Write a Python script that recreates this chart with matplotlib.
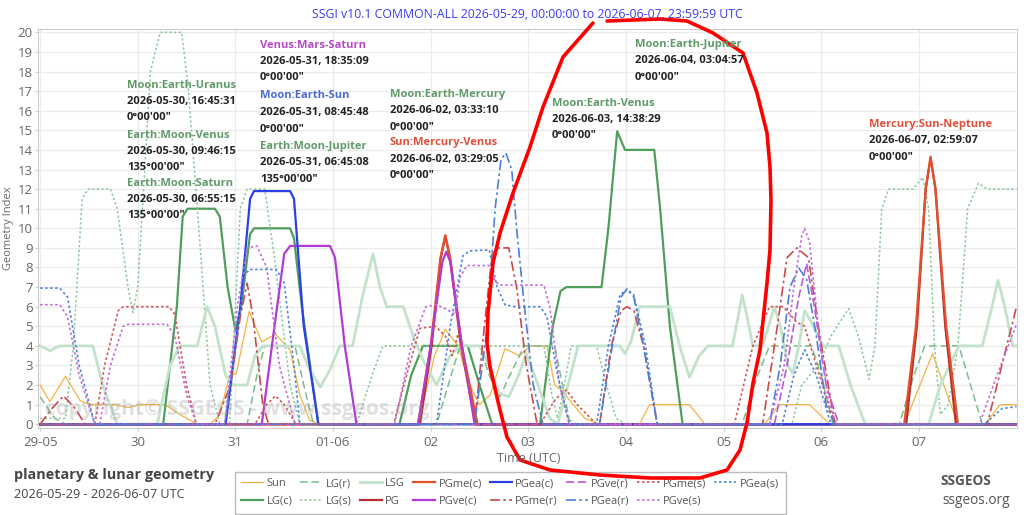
import matplotlib
matplotlib.use('Agg')
import matplotlib.pyplot as plt
from matplotlib.lines import Line2D
from matplotlib.transforms import Affine2D

plt.rcParams['font.family'] = ['Open Sans', 'DejaVu Sans']

W, H = 1024, 515

# x axis: days from 2026-05-29 00:00 UTC
day_ticks = [0, 1, 2, 3, 4, 5, 6, 7, 8, 9]
day_labels = ['29-05', '30', '31', '01-06', '02', '03', '04', '05', '06', '07']

# (day, geometry index)
sun = [(0, 2.0), (0.10, 1.15), (0.26, 2.45), (0.41, 1.2), (0.51, 1.0), (0.77, 1.0), (0.90, 0.85),
       (1.02, 1.0), (1.28, 1.0), (1.43, 0.5), (1.59, 0.05), (1.74, 0.0), (1.84, 0.5), (1.94, 2.5),
       (2.01, 2.6), (2.14, 5.75), (2.27, 4.2), (2.41, 4.6), (2.56, 3.8), (2.66, 1.5), (2.76, 0.2),
       (2.87, 0.0), (3.87, 0.0), (4.04, 3.5), (4.15, 4.85), (4.28, 4.0), (4.40, 2.0), (4.50, 1.0),
       (4.61, 1.5), (4.76, 3.85), (4.91, 3.5), (5.02, 4.0), (5.19, 4.0), (5.27, 2.0), (5.35, 1.7),
       (5.46, 1.0), (5.58, 0.3), (5.73, 0.0), (6.14, 0.0), (6.24, 1.0), (6.65, 1.0), (6.81, 0.0),
       (7.42, 0.0), (7.57, 1.0), (7.88, 1.0), (8.09, 0.0), (8.85, 0.0), (9.14, 3.6), (9.40, 0.0),
       (9.68, 0.0), (9.83, 1.0), (10.0, 1.0)]

lg_c = [(0, 0), (1.26, 0), (1.40, 6), (1.46, 10.6), (1.51, 11), (1.79, 11), (1.84, 10.6), (1.92, 7),
        (2.0, 4.8), (2.06, 6), (2.15, 9.7), (2.19, 10), (2.56, 10), (2.60, 9.5), (2.68, 6), (2.85, 0),
        (3.68, 0), (3.80, 2.5), (3.92, 4), (4.38, 4), (4.50, 2), (4.63, 0), (5.12, 0), (5.25, 5),
        (5.33, 6.8), (5.39, 7), (5.75, 7), (5.82, 10), (5.91, 14.95), (5.99, 14.0), (6.29, 14.0),
        (6.35, 11), (6.45, 5), (6.58, 0), (10, 0)]

lg_r = [(0, 1.4), (0.15, 0.3), (0.26, 0), (2.12, 0), (2.22, 2.5), (2.30, 4), (2.61, 4), (2.70, 2),
        (2.80, 0), (4.06, 0), (4.18, 2), (4.30, 4), (4.50, 4), (4.60, 2.5), (4.71, 1.4), (4.81, 2.5),
        (4.96, 4), (5.27, 4), (5.35, 2), (5.42, 0.2), (5.50, 0), (7.19, 0), (7.35, 2.5), (7.47, 4),
        (7.90, 4), (8.00, 2.5), (8.12, 0), (8.80, 0), (8.95, 2.5), (9.06, 4), (9.41, 4), (9.50, 2.5),
        (9.65, 0), (10, 0)]

lg_s = [(0, 0.3), (0.26, 0.3), (0.34, 4), (0.43, 11.5), (0.49, 12), (0.72, 12), (0.79, 11),
        (0.90, 7), (0.95, 5.7), (1.00, 7), (1.13, 18), (1.23, 20), (1.45, 20), (1.52, 17), (1.64, 9),
        (1.74, 2), (1.84, 0), (1.94, 0), (2.05, 11), (2.12, 12), (2.30, 12), (2.40, 8.5), (2.56, 2),
        (2.66, 0), (3.24, 0), (3.40, 2.5), (3.51, 4), (5.16, 4), (5.24, 1.5), (5.30, 0.3),
        (5.35, 1.5), (5.44, 4), (5.70, 4), (5.80, 2), (5.90, 0.3), (6.0, 0), (7.70, 0), (7.80, 2),
        (7.97, 3), (8.10, 4.5), (8.28, 5.9), (8.38, 4.5), (8.49, 2.3), (8.55, 4), (8.62, 11),
        (8.69, 12), (8.94, 12), (9.04, 12.6), (9.10, 11), (9.16, 4), (9.22, 0.5), (9.30, 1),
        (9.40, 4), (9.50, 11), (9.61, 12.3), (9.70, 12.0), (10, 12.0)]

lsg = [(0, 4), (0.10, 3.75), (0.20, 4), (0.54, 4), (0.64, 2), (0.79, 0), (1.20, 0), (1.33, 3),
       (1.43, 4), (1.61, 4), (1.71, 6), (1.79, 5), (1.90, 2.5), (1.98, 2.0), (2.12, 2.0), (2.20, 3.5),
       (2.28, 4), (2.66, 4), (2.76, 2.8), (2.87, 1.9), (2.97, 2.8), (3.07, 4), (3.20, 4), (3.30, 6.5),
       (3.41, 8.7), (3.48, 7), (3.55, 6), (3.72, 6), (3.82, 4.5), (3.92, 3.3), (4.06, 2.0),
       (4.20, 3.5), (4.30, 4), (4.50, 4), (4.60, 3), (4.70, 1.6), (4.80, 1.4), (4.90, 2.5),
       (4.98, 3.6), (5.10, 2), (5.22, 0.3), (5.30, 0), (5.38, 1.5), (5.51, 4), (5.94, 4), (5.99, 3.6),
       (6.05, 4.2), (6.14, 6), (6.45, 6), (6.55, 4), (6.65, 2.4), (6.75, 3.5), (6.84, 4), (7.09, 4),
       (7.15, 5.5), (7.19, 6.6), (7.24, 5.5), (7.30, 4), (7.40, 4), (7.46, 5), (7.52, 6), (7.58, 5),
       (7.66, 3), (7.71, 2.6), (7.77, 4), (7.83, 5.8), (7.90, 5.2), (8.02, 4), (8.18, 4), (8.30, 2),
       (8.45, 0), (9.10, 0), (9.22, 2), (9.41, 4), (9.65, 4), (9.75, 6), (9.81, 7.35), (9.88, 6),
       (9.96, 4), (10, 4)]

pg = [(0, 0), (3.89, 0), (4.01, 4), (4.10, 8.4), (4.15, 9.6), (4.20, 8.4), (4.31, 4), (4.46, 0),
      (8.87, 0), (8.98, 5), (9.07, 12), (9.12, 13.6), (9.17, 12), (9.27, 5), (9.38, 0), (10, 0)]

pgme_c = [(0, 0), (3.87, 0), (4.0, 4), (4.10, 8.5), (4.15, 9.65), (4.20, 8.5), (4.32, 4), (4.48, 0),
          (8.85, 0), (8.97, 5), (9.07, 12), (9.12, 13.65), (9.17, 12), (9.28, 5), (9.40, 0), (10, 0)]

pgve_c = [(0, 0), (2.27, 0), (2.40, 5), (2.50, 8.7), (2.56, 9.1), (2.97, 9.1), (3.02, 8.5),
          (3.12, 4), (3.24, 0), (3.87, 0), (4.00, 4), (4.12, 8.3), (4.16, 8.8), (4.20, 8.3),
          (4.32, 4), (4.45, 0), (10, 0)]

pgea_c = [(0, 0), (1.90, 0), (2.05, 6), (2.15, 11.5), (2.19, 11.9), (2.56, 11.9), (2.60, 11.5),
          (2.70, 5), (2.85, 0), (10, 0)]

pgme_r = [(0, 0), (0.12, 0.8), (0.24, 1.45), (0.36, 0.8), (0.46, 0), (1.79, 0), (1.95, 2),
          (2.05, 5.5), (2.12, 7.2), (2.18, 5.5), (2.28, 1), (2.34, 0), (4.45, 0), (4.55, 5),
          (4.63, 8.7), (4.70, 9.0), (4.80, 9.0), (4.88, 7), (4.98, 3), (5.09, 0), (5.73, 0),
          (5.85, 4), (5.95, 5.8), (6.01, 6.0), (6.08, 5.8), (6.18, 4), (6.32, 0), (7.40, 0),
          (7.55, 5), (7.65, 8.5), (7.75, 9.0), (7.87, 8.5), (7.97, 5), (8.14, 0), (9.70, 0),
          (9.85, 3), (10, 6.0)]

pgve_r = [(0, 0), (7.52, 0), (7.65, 3), (7.77, 6.5), (7.85, 8.2), (7.93, 6), (8.05, 2), (8.18, 0),
          (10, 0)]

pgea_r = [(0, 0), (4.45, 0), (4.58, 5), (4.66, 11), (4.72, 13.5), (4.77, 13.85), (4.83, 13.0),
          (4.88, 10), (4.96, 6), (5.05, 2), (5.15, 0), (5.73, 0), (5.86, 4), (5.95, 6.5),
          (6.01, 6.9), (6.08, 6.5), (6.18, 4), (6.32, 0), (7.47, 0), (7.58, 3), (7.68, 7),
          (7.77, 7.97), (7.85, 7.4), (7.95, 4.5), (8.05, 1), (8.14, 0), (10, 0)]

pgme_s = [(0, 0), (0.56, 0), (0.66, 3), (0.80, 5.8), (0.85, 6.0), (1.32, 6.0), (1.38, 5.6),
          (1.50, 2), (1.60, 0), (2.20, 0), (2.32, 1.0), (2.41, 1.45), (2.50, 1.0), (2.62, 0),
          (3.62, 0), (3.78, 3), (3.89, 4.9), (4.05, 5.0), (4.15, 4.5), (4.22, 3.5), (4.28, 4.6),
          (4.35, 3), (4.48, 0), (5.12, 0), (5.28, 1.3), (5.39, 1.75), (5.50, 1.0), (5.70, 0),
          (7.11, 0), (7.30, 4), (7.47, 6.0), (7.61, 6.0), (7.75, 5.2), (7.83, 5.0), (7.95, 3),
          (8.14, 0), (10, 0)]

pgve_s = [(0, 6.1), (0.20, 6.1), (0.28, 5.5), (0.40, 2.5), (0.56, 0), (0.61, 0), (0.72, 3),
          (0.85, 5.0), (0.90, 5.1), (1.30, 5.1), (1.38, 4.5), (1.50, 1.5), (1.60, 0), (1.89, 0),
          (2.02, 6), (2.12, 9.0), (2.22, 9.1), (2.32, 8), (2.45, 3), (2.61, 0), (3.63, 0),
          (3.80, 4), (3.95, 6.0), (4.06, 6.1), (4.15, 5.9), (4.25, 5.6), (4.30, 7.5), (4.37, 8.1),
          (4.60, 8.1), (4.66, 7.3), (4.71, 7.1), (5.16, 7.1), (5.22, 6), (5.32, 2), (5.42, 0),
          (7.47, 0), (7.62, 3), (7.72, 7), (7.80, 9.6), (7.83, 10.0), (7.88, 9.3), (7.97, 5),
          (8.08, 1), (8.16, 0), (9.62, 0), (9.80, 2.5), (10, 5.1)]

pgea_s = [(0, 6.95), (0.20, 6.95), (0.28, 6.5), (0.40, 3), (0.56, 0), (1.89, 0), (2.00, 4),
          (2.10, 7.6), (2.14, 7.9), (2.42, 7.9), (2.50, 7.2), (2.60, 3), (2.66, 0), (4.06, 0),
          (4.20, 5), (4.33, 8.6), (4.40, 8.85), (4.60, 8.9), (4.68, 7), (4.76, 6.1), (4.86, 6.0),
          (5.12, 6.0), (5.19, 5.5), (5.30, 2.5), (5.42, 0), (5.70, 0), (5.82, 4), (5.94, 6.6),
          (6.01, 6.9), (6.08, 6.6), (6.20, 4), (6.32, 0), (7.60, 0), (7.72, 2.5), (7.83, 3.8),
          (7.95, 2.5), (8.10, 0), (9.67, 0), (9.85, 0.8), (10, 0.9)]

# label, data, colour, width, style (legend order)
series = [
    ('Sun', sun, '#f2b443', 0.9, '-'),
    ('LG(c)', lg_c, '#4f9e5b', 1.6, '-'),
    ('LG(r)', lg_r, '#7dbb8b', 1.1, (0, (5, 2.5))),
    ('LG(s)', lg_s, '#8cc79a', 1.1, (0, (1.5, 1.5))),
    ('LSG', lsg, '#c3e2cb', 2.0, '-'),
    ('PG', pg, '#b32e2e', 1.6, '-'),
    ('PGme(c)', pgme_c, '#e2502c', 1.6, '-'),
    ('PGve(c)', pgve_c, '#b23ad6', 1.6, '-'),
    ('PGea(c)', pgea_c, '#2a40e2', 1.6, '-'),
    ('PGme(r)', pgme_r, '#c94a4a', 1.2, (0, (6, 2, 1.5, 2))),
    ('PGve(r)', pgve_r, '#b95ad8', 1.2, (0, (5, 2))),
    ('PGea(r)', pgea_r, '#4c7fd6', 1.2, (0, (6, 2, 1.5, 2))),
    ('PGme(s)', pgme_s, '#d05656', 1.2, (0, (1.5, 1.5))),
    ('PGve(s)', pgve_s, '#c46cdb', 1.2, (0, (1.5, 1.5))),
    ('PGea(s)', pgea_s, '#4f84da', 1.2, (0, (1.5, 1.5))),
]

# event labels: x px, y px of first line, title, colour, time, angle
events = [
    (127, 85, 'Moon:Earth-Uranus', '#5f9a68', '2026-05-30, 16:45:31', '0°00\'00"'),
    (127, 135, 'Earth:Moon-Venus', '#5f9a68', '2026-05-30, 09:46:15', '135°00\'00"'),
    (127, 183, 'Earth:Moon-Saturn', '#5f9a68', '2026-05-30, 06:55:15', '135°00\'00"'),
    (260, 45, 'Venus:Mars-Saturn', '#b24ac4', '2026-05-31, 18:35:09', '0°00\'00"'),
    (260, 96, 'Moon:Earth-Sun', '#4a6ad0', '2026-05-31, 08:45:48', '0°00\'00"'),
    (260, 146, 'Earth:Moon-Jupiter', '#5f9a68', '2026-05-31, 06:45:08', '135°00\'00"'),
    (390, 94, 'Moon:Earth-Mercury', '#5f9a68', '2026-06-02, 03:33:10', '0°00\'00"'),
    (390, 143, 'Sun:Mercury-Venus', '#e0503a', '2026-06-02, 03:29:05', '0°00\'00"'),
    (552, 103, 'Moon:Earth-Venus', '#5f9a68', '2026-06-03, 14:38:29', '0°00\'00"'),
    (635, 44, 'Moon:Earth-Jupiter', '#5f9a68', '2026-06-04, 03:04:57', '0°00\'00"'),
    (869, 124, 'Mercury:Sun-Neptune', '#e0503a', '2026-06-07, 02:59:07', '0°00\'00"'),
]

# hand-drawn red loop (pixels)
loop_x = [593, 563, 543, 530, 513, 500, 493, 488, 487, 490, 500, 507, 520, 550, 600, 650, 700, 727,
          740, 747, 753, 760, 767, 770, 771, 770, 767, 757, 743, 713, 687, 660, 607]
loop_y = [23, 57, 107, 147, 193, 233, 263, 313, 343, 367, 410, 437, 460, 470, 475, 478, 478, 470,
          450, 423, 383, 350, 283, 250, 200, 167, 133, 93, 53, 33, 21, 19, 21]

fig = plt.figure(figsize=(W / 100, H / 100), dpi=100)
ax = fig.add_axes([37.7 / W, 1 - 428 / H, (1016.5 - 37.7) / W, (428 - 29) / H])

for label, data, color, lw, ls in series:
    ax.plot([p[0] for p in data], [p[1] for p in data], color=color, lw=lw, ls=ls, label=label)

ax.set_xlim(-0.025, 10.0)
ax.set_ylim(-0.19, 20.17)
ax.set_xticks(day_ticks)
ax.set_xticklabels(day_labels)
ax.set_yticks(range(0, 21))
ax.grid(True, color='#ebebeb', lw=0.9)
ax.set_axisbelow(True)
ax.tick_params(colors='#cccccc', labelcolor='#666666', labelsize=9.5, length=2)
ax.tick_params(axis='y', pad=1.5)
for s in ax.spines.values():
    s.set_color('#cccccc')

def px(x, y):
    return x / W, 1 - y / H

fig.text(*px(527, 15), 'SSGI v10.1 COMMON-ALL 2026-05-29, 00:00:00 to 2026-06-07, 23:59:59 UTC',
         color='#3b3bf2', fontsize=8.8, ha='center', va='center')
fig.text(*px(9, 228), 'Geometry Index', color='#666666', fontsize=8, rotation=90,
         ha='center', va='center')
fig.text(*px(529, 458), 'Time (UTC)', color='#666666', fontsize=9, ha='center', va='center')
fig.text(*px(45, 410), 'copyright© SSGEOS - www.ssgeos.org', color='#999999', alpha=0.3,
         fontsize=15, fontweight='bold', ha='left', va='center')

for x, y, title, color, when, angle in events:
    fig.text(*px(x, y), title, color=color, fontsize=8, fontweight='bold', va='center')
    fig.text(*px(x, y + 16.5), when, color='#222222', fontsize=8, fontweight='bold', va='center')
    fig.text(*px(x, y + 33), angle, color='#222222', fontsize=8, fontweight='bold', va='center')

fig.text(*px(14, 475), 'planetary & lunar geometry', color='#444444', fontsize=10.4,
         fontweight='bold', va='center')
fig.text(*px(14, 494), '2026-05-29 - 2026-06-07 UTC', color='#444444', fontsize=9.1, va='center')
fig.text(*px(966, 481), 'SSGEOS', color='#555555', fontsize=9.8, fontweight='bold',
         ha='center', va='center')
fig.text(*px(976, 500), 'ssgeos.org', color='#555555', fontsize=9.8, ha='center', va='center')

leg = ax.legend(ncol=8, loc='upper left', bbox_to_anchor=px(229, 466), bbox_transform=fig.transFigure,
                fancybox=False, edgecolor='#aaaaaa', fontsize=8, handlelength=2.0,
                columnspacing=0.7, handletextpad=0.3, labelcolor='#555555', borderpad=0.6,
                labelspacing=0.6)
leg.get_frame().set_linewidth(1.0)

tr = Affine2D().scale(1 / W, -1 / H).translate(0, 1) + fig.transFigure
fig.add_artist(Line2D(loop_x, loop_y, transform=tr, color='#ff0000', lw=2.6,
                      solid_capstyle='round', solid_joinstyle='round'))

fig.savefig('out.png', dpi=100)
